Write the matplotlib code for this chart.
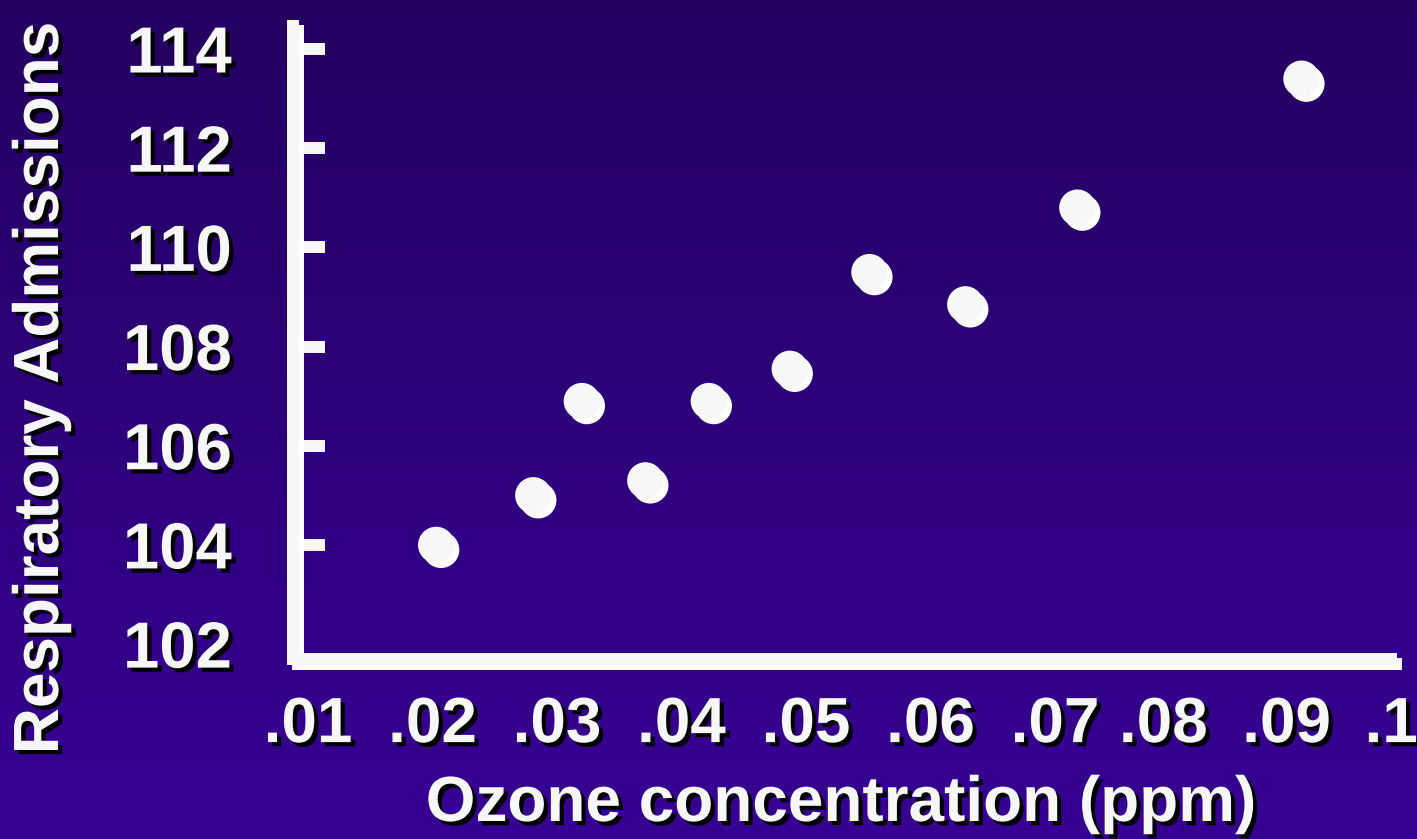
import numpy as np
import matplotlib
matplotlib.use("Agg")
import matplotlib.pyplot as plt
import matplotlib.patheffects as pe
from matplotlib.colors import LinearSegmentedColormap

# data
ozone = [0.0203, 0.0281, 0.0320, 0.0371, 0.0422, 0.0487, 0.0551, 0.0628, 0.0718, 0.0898]
admissions = [104.0, 105.0, 106.9, 105.3, 106.9, 107.55, 109.5, 108.85, 110.8, 113.4]

y_ticks = [104, 106, 108, 110, 112, 114]
y_labels = ["104", "106", "108", "110", "112", "114"]
y_bottom_tick = [102]          # label only, sits on the x axis
y_bottom_label = ["102"]
# the x labels on the slide are not evenly spaced
x_ticks = [0.01, 0.02, 0.03, 0.04, 0.05, 0.06, 0.07, 0.0787, 0.0886, 0.0970]
x_labels = [".01", ".02", ".03", ".04", ".05", ".06", ".07", ".08", ".09", ".1"]

FG = "#f7f7f7"
plt.rcParams["font.family"] = ["Liberation Sans", "DejaVu Sans"]
plt.rcParams["font.weight"] = "bold"

fig = plt.figure(figsize=(14.17, 8.39), dpi=100)

# background gradient
bg = fig.add_axes([0, 0, 1, 1], zorder=-10)
cmap = LinearSegmentedColormap.from_list("slide", ["#230060", "#370094"])
bg.imshow(np.linspace(0, 1, 256).reshape(-1, 1), aspect="auto", cmap=cmap,
          extent=[0, 1, 0, 1])
bg.set_axis_off()

ax = fig.add_axes([293 / 1417, 1 - 659 / 839, (1397 - 293) / 1417, (659 - 20) / 839])
ax.patch.set_alpha(0)
ax.set_xlim(0.008795, 0.09747)
ax.set_ylim(101.70, 114.585)
for s in ax.spines.values():
    s.set_visible(False)

txt_shadow = [pe.SimplePatchShadow(offset=(3, -3), shadow_rgbFace="black", alpha=1), pe.Normal()]
white_shadow_line = [pe.SimpleLineShadow(offset=(3.5, -3.5), shadow_color="white", alpha=1), pe.Normal()]

# axis lines
ax.plot([0, 0, 1], [1, 0, 0], transform=ax.transAxes, color=FG, lw=8.6,
        solid_capstyle="butt", solid_joinstyle="miter", clip_on=False,
        zorder=5, path_effects=white_shadow_line)

# points
ax.scatter(ozone, admissions, s=690, color=FG, edgecolors="none", zorder=6,
           clip_on=False,
           path_effects=[pe.SimplePatchShadow(offset=(3.5, -3.5), shadow_rgbFace="white", alpha=1),
                         pe.Normal()])

ax.set_yticks(y_ticks, y_labels)
ax.set_yticks(y_bottom_tick, y_bottom_label, minor=True)
ax.set_xticks(x_ticks, x_labels)
ax.tick_params(axis="y", which="major", direction="in", length=23, width=8.6, color=FG,
               pad=44, labelsize=47, labelcolor=FG)
ax.tick_params(axis="y", which="minor", direction="in", length=0, pad=44,
               labelsize=47, labelcolor=FG)
ax.tick_params(axis="x", length=0, pad=26, labelsize=46, labelcolor=FG)
for lbl in (ax.get_yticklabels() + ax.get_yticklabels(minor=True)
            + ax.get_xticklabels()):
    lbl.set_path_effects(txt_shadow)
    lbl.set_fontweight("bold")

fig.text(841 / 1417, 1 - 804 / 839, "Ozone concentration (ppm)", ha="center", va="center",
         fontsize=46, color=FG, fontweight="bold", path_effects=txt_shadow)
fig.text(41 / 1417, 1 - 388 / 839, "Respiratory Admissions", ha="center", va="center",
         rotation=90, fontsize=46, color=FG, fontweight="bold", path_effects=txt_shadow)

fig.savefig("out.png", dpi=100)
